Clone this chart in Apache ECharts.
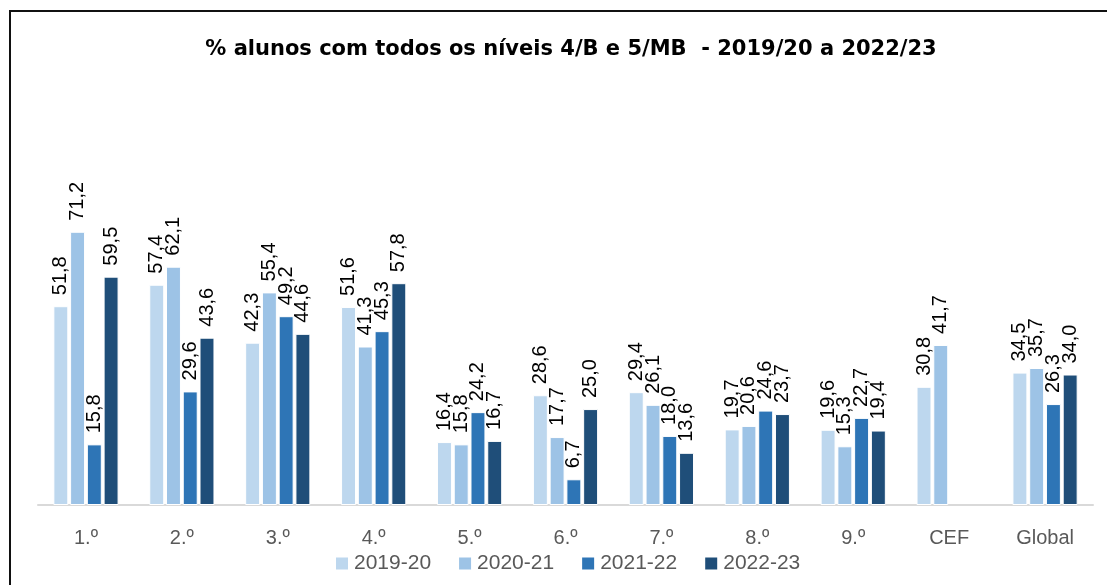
<!DOCTYPE html>
<html><head><meta charset="utf-8">
<script src="https://cdn.jsdelivr.net/npm/echarts@6/dist/echarts.min.js"></script>
<style>html,body{margin:0;padding:0;background:#fff}#c{width:1107px;height:585px}</style>
</head><body><div id="c"></div>
<script>
const categories = ['1.º','2.º','3.º','4.º','5.º','6.º','7.º','8.º','9.º','CEF','Global'];
const seriesNames = ['2019-20','2020-21','2021-22','2022-23'];
const s2019 = [51.8,57.4,42.3,51.6,16.4,28.6,29.4,19.7,19.6,30.8,34.5];
const s2020 = [71.2,62.1,55.4,41.3,15.8,17.7,26.1,20.6,15.3,41.7,35.7];
const s2021 = [15.8,29.6,49.2,45.3,24.2,6.7,18.0,24.6,22.7,null,26.3];
const s2022 = [59.5,43.6,44.6,57.8,16.7,25.0,13.6,23.7,19.4,null,34.0];
const colors = ['#BDD7EE','#9DC3E6','#2E75B6','#1F4E79'];
const titleText = '% alunos com todos os níveis 4/B e 5/MB  - 2019/20 a 2022/23';

const FONT = 'Liberation Sans';
const allData = [s2019,s2020,s2021,s2022];
const chart = echarts.init(document.getElementById('c'), null, {renderer:'canvas'});
chart.setOption({
  animation:false,
  color: colors,
  title:{text:titleText,left:566,top:34,textAlign:'center',
    textStyle:{fontFamily:'DejaVu Sans',fontWeight:'bold',fontSize:21,color:'#000'}},
  graphic:[{type:'rect',shape:{x:10,y:11,width:1200,height:700},
    style:{fill:'none',stroke:'#111',lineWidth:2},silent:true}],
  legend:{data:seriesNames,left:329,top:548,itemWidth:14,itemHeight:14,itemGap:26,
    icon:'rect',textStyle:{fontFamily:FONT,fontSize:21,color:'#595959'}},
  grid:{left:38,right:14,top:198,bottom:80,containLabel:false},
  xAxis:{type:'category',data:categories,
    axisLine:{lineStyle:{color:'#D9D9D9',width:2}},axisTick:{show:false},
    axisLabel:{fontFamily:FONT,fontSize:20,color:'#595959',margin:23}},
  yAxis:{type:'value',min:0,max:80,show:false,splitLine:{show:false}},
  series: seriesNames.map((n,i)=>({
    name:n,type:'bar',data:allData[i],barGap:'12%',barCategoryGap:'32%',
    itemStyle:{borderColor:'#fff',borderWidth:1},
    label:{show:true,position:'top',rotate:90,align:'left',verticalAlign:'middle',distance:11,
      fontFamily:FONT,fontSize:20,color:'#000',
      formatter:p=>p.value==null?'':p.value.toFixed(1).replace('.',',')}
  }))
});
</script></body></html>
